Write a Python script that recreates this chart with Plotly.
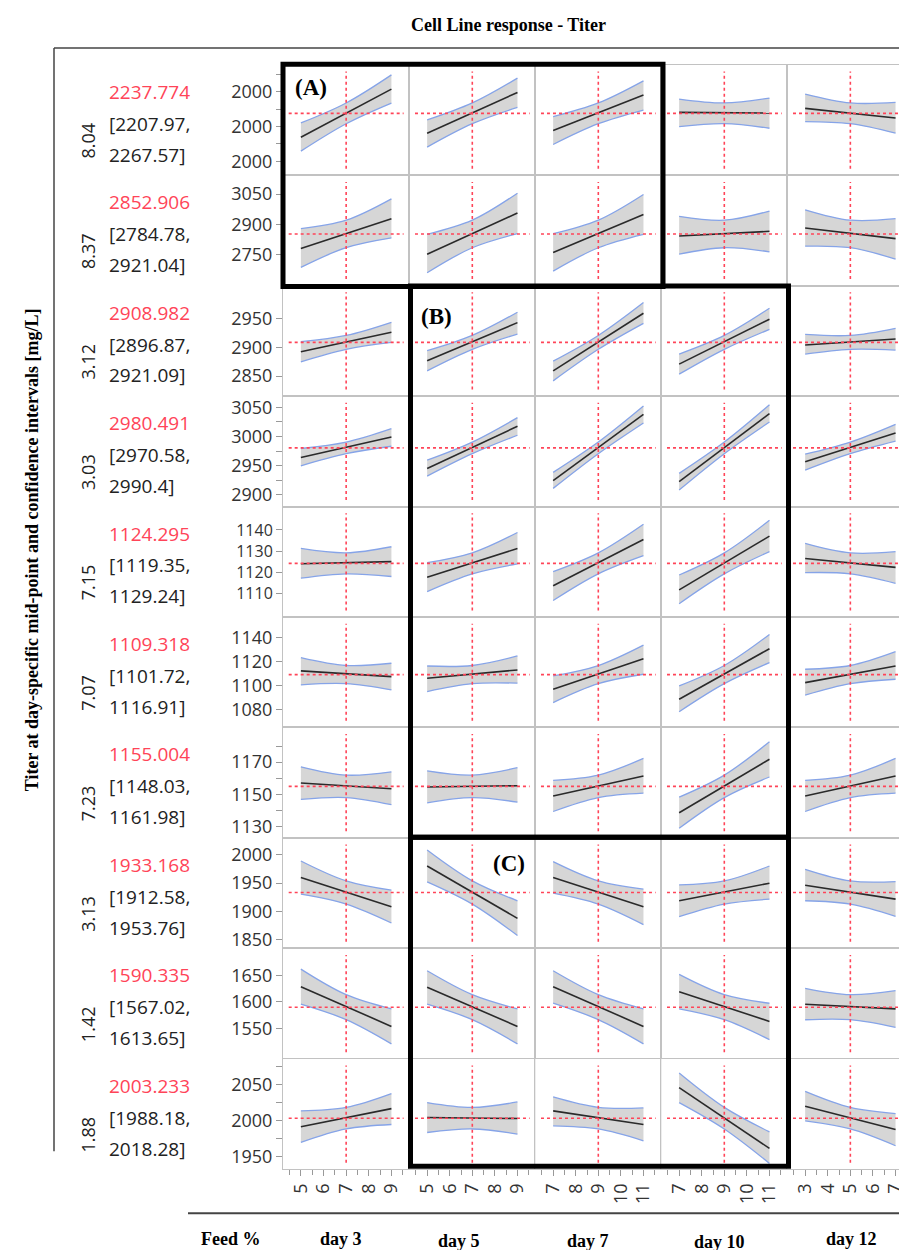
import plotly.graph_objects as go

# ---------------- data ----------------
TITLE = "Cell Line response - Titer"
Y_TITLE = "Titer at day-specific mid-point and confidence intervals [mg/L]"
X_HEADER = "Feed %"
DAYS = ["day 3", "day 5", "day 7", "day 10", "day 12"]
X_LO = [5, 5, 7, 7, 3]
X_MID = [7, 7, 9, 9, 5]
X_HI = [9, 9, 11, 11, 7]

ROW_LABELS = ["8.04", "8.37", "3.12", "3.03", "7.15", "7.07", "7.23", "3.13", "1.42", "1.88"]
MID = [2237.774, 2852.906, 2908.982, 2980.491, 1124.295, 1109.318, 1155.004, 1933.168, 1590.335, 2003.233]
CI_LO = [2207.97, 2784.78, 2896.87, 2970.58, 1119.35, 1101.72, 1148.03, 1912.58, 1567.02, 1988.18]
CI_HI = [2267.57, 2921.04, 2921.09, 2990.4, 1129.24, 1116.91, 1161.98, 1953.76, 1613.65, 2018.28]

# prediction line at low / high end of each factor range (rows x days)
LINE_LO = [
    [2169.2, 2180.7, 2188.3, 2240.6, 2252.1],
    [2780.8, 2752.9, 2761.1, 2843.1, 2882.4],
    [2892.6, 2876.8, 2859.3, 2871.0, 2904.3],
    [2964.0, 2945.3, 2924.3, 2922.6, 2956.6],
    [1124.1, 1117.7, 1113.7, 1111.8, 1126.6],
    [1112.4, 1106.2, 1097.1, 1088.7, 1102.6],
    [1157.1, 1154.6, 1149.0, 1138.6, 1149.0],
    [1959.6, 1980.2, 1959.6, 1918.5, 1946.1],
    [1628.6, 1627.4, 1628.6, 1619.3, 1595.9],
    [1991.2, 2004.1, 2013.4, 2045.8, 2019.9],
]
LINE_HI = [
    [2307.3, 2297.8, 2290.2, 2238.7, 2224.4],
    [2928.3, 2956.2, 2949.6, 2866.0, 2829.9],
    [2926.6, 2943.5, 2959.9, 2949.4, 2914.9],
    [2999.2, 3017.4, 3037.9, 3039.0, 3006.1],
    [1125.1, 1131.3, 1135.5, 1137.1, 1122.4],
    [1107.6, 1113.2, 1122.6, 1131.0, 1116.5],
    [1153.5, 1155.4, 1161.4, 1171.8, 1161.4],
    [1907.9, 1887.3, 1907.9, 1949.7, 1921.4],
    [1554.5, 1554.5, 1554.5, 1563.8, 1587.2],
    [2016.6, 2002.8, 1994.4, 1961.1, 1987.5],
]
# confidence band edges at low / high end
UP_LO = [
    [2210.2, 2218.7, 2228.3, 2278.7, 2293.0],
    [2879.1, 2851.3, 2854.5, 2939.8, 2972.5],
    [2910.2, 2894.4, 2876.2, 2888.5, 2923.0],
    [2979.4, 2959.5, 2938.5, 2936.8, 2969.7],
    [1131.3, 1124.6, 1120.4, 1118.8, 1133.7],
    [1123.5, 1116.5, 1108.2, 1099.8, 1113.8],
    [1167.1, 1164.6, 1158.7, 1148.3, 1158.7],
    [1989.1, 2008.5, 1987.9, 1946.7, 1974.4],
    [1661.3, 1658.2, 1658.2, 1651.4, 1625.5],
    [2013.4, 2025.0, 2032.8, 2066.2, 2040.7],
]
DN_LO = [
    [2129.3, 2140.7, 2148.3, 2199.7, 2214.0],
    [2687.4, 2661.1, 2669.3, 2752.9, 2792.3],
    [2875.1, 2859.3, 2841.7, 2853.4, 2888.5],
    [2949.8, 2932.2, 2911.2, 2908.4, 2942.4],
    [1117.3, 1111.0, 1106.8, 1105.3, 1119.9],
    [1100.7, 1095.1, 1085.9, 1078.2, 1092.1],
    [1146.9, 1144.8, 1139.4, 1129.0, 1139.4],
    [1930.2, 1952.0, 1932.0, 1890.3, 1918.5],
    [1595.9, 1595.9, 1597.8, 1587.2, 1566.9],
    [1969.4, 1983.3, 1992.6, 2025.0, 1999.5],
]
UP_HI = [
    [2348.2, 2338.8, 2331.1, 2281.6, 2269.2],
    [3026.6, 3054.5, 3047.9, 2966.0, 2928.3],
    [2944.1, 2961.7, 2978.6, 2968.7, 2933.6],
    [3013.4, 3032.2, 3052.1, 3054.3, 3020.8],
    [1132.1, 1138.8, 1142.7, 1144.6, 1129.8],
    [1118.8, 1124.9, 1134.0, 1142.9, 1128.5],
    [1164.0, 1166.6, 1172.3, 1182.7, 1172.3],
    [1937.3, 1918.5, 1939.1, 1980.2, 1952.6],
    [1587.2, 1587.2, 1587.2, 1597.7, 1621.1],
    [2037.5, 2025.9, 2017.6, 1984.2, 2009.7],
]
DN_HI = [
    [2267.3, 2254.9, 2247.3, 2195.0, 2180.7],
    [2833.2, 2854.5, 2851.3, 2764.4, 2728.3],
    [2909.0, 2923.6, 2942.3, 2931.8, 2895.5],
    [2983.3, 3002.1, 3023.1, 3024.8, 2991.9],
    [1118.1, 1124.0, 1127.9, 1129.8, 1114.9],
    [1096.5, 1102.1, 1109.6, 1119.3, 1105.4],
    [1143.6, 1145.2, 1150.8, 1160.8, 1150.8],
    [1879.1, 1856.8, 1876.2, 1921.4, 1890.9],
    [1521.8, 1521.8, 1521.8, 1529.8, 1552.7],
    [1994.4, 1981.0, 1971.7, 1940.2, 1964.8],
]

Y_TICKS = [
    [2100, 2200, 2300], [2750, 2900, 3050], [2850, 2900, 2950],
    [2900, 2950, 3000, 3050], [1110, 1120, 1130, 1140], [1080, 1100, 1120, 1140],
    [1130, 1150, 1170], [1850, 1900, 1950, 2000], [1550, 1600, 1650],
    [1950, 2000, 2050],
]
Y_TICKTEXT = [
    ["2000", "2000", "2000"], None, None, None, None, None, None, None, None, None,
]
Y_MINOR = [
    [2150, 2250, 2350], [], [], [2925, 2975, 3025], [], [], [1140, 1160, 1180],
    [], [], [1975, 2025, 2075],
]

# ---------------- layout (pixels) ----------------
W, H = 907, 1250
GRID_X = [275, 401.3, 527.3, 653.3, 779.3, 905.4]
GRID_TOP, ROW_H = 55, 110.8
Y_RANGES = [(2060, 2377), (2597, 3143), (2815, 3008), (2880, 3069), (1099, 1151),
            (1065, 1157.5), (1123, 1191.5), (1834, 2030), (1494, 1700), (1932, 2086)]
Y_TICKSIZE = [18, 18, 18, 18, 16, 18, 18, 18, 18, 18]
X_HALF = 2.79

RED = "#ff4458"
BLUE = "#86a4e8"
FILL = "#d6d6d6"
GRID = "#c2c2c2"
NUMFONT = "Open Sans"
SERIF = "Liberation Serif"
TICKSIZE = 18


def px(x):
    return x / W


def py(y):
    return 1 - y / H


fig = go.Figure()
layout = {}
shapes = []
annotations = []

NR, NC = len(MID), len(DAYS)
for i in range(NR):
    top = GRID_TOP + ROW_H * i
    bot = top + ROW_H
    for j in range(NC):
        k = i * NC + j + 1
        xs = "x" if k == 1 else f"x{k}"
        ys = "y" if k == 1 else f"y{k}"
        xa = "xaxis" if k == 1 else f"xaxis{k}"
        ya = "yaxis" if k == 1 else f"yaxis{k}"
        xd = [X_LO[j], X_MID[j], X_HI[j]]
        lower = [DN_LO[i][j], CI_LO[i], DN_HI[i][j]]
        upper = [UP_LO[i][j], CI_HI[i], UP_HI[i][j]]
        # band fill
        fig.add_trace(go.Scatter(x=xd, y=lower, xaxis=xs, yaxis=ys,
                                 mode="lines", line=dict(width=0, shape="spline", smoothing=1.0),
                                 hoverinfo="skip", showlegend=False))
        fig.add_trace(go.Scatter(x=xd, y=upper, xaxis=xs, yaxis=ys,
                                 mode="lines", line=dict(width=0, shape="spline", smoothing=1.0),
                                 fill="tonexty", fillcolor=FILL, hoverinfo="skip", showlegend=False))
        # band edges
        for yy in (lower, upper):
            fig.add_trace(go.Scatter(x=xd, y=yy, xaxis=xs, yaxis=ys, mode="lines",
                                     line=dict(color=BLUE, width=1.3, shape="spline", smoothing=1.0),
                                     hoverinfo="skip", showlegend=False))
        # prediction line
        fig.add_trace(go.Scatter(x=[X_LO[j], X_HI[j]], y=[LINE_LO[i][j], LINE_HI[i][j]],
                                 xaxis=xs, yaxis=ys, mode="lines",
                                 line=dict(color="#2a2a2a", width=1.6),
                                 hoverinfo="skip", showlegend=False))
        # crosshair
        shapes.append(dict(type="line", xref=f"{xs} domain", yref=ys, x0=0.045, x1=0.955,
                           y0=MID[i], y1=MID[i], line=dict(color=RED, width=1.6, dash="dot"),
                           layer="above"))
        shapes.append(dict(type="line", xref=xs, yref=f"{ys} domain", x0=X_MID[j], x1=X_MID[j],
                           y0=0.06, y1=0.94, line=dict(color=RED, width=1.6, dash="dot"),
                           layer="above"))

        xax = dict(domain=[px(GRID_X[j]), px(GRID_X[j + 1])], anchor=ys,
                   range=[X_MID[j] - X_HALF, X_MID[j] + X_HALF],
                   showgrid=False, zeroline=False, showline=True, mirror=True,
                   linecolor=GRID, linewidth=1, fixedrange=True)
        if i == NR - 1:
            xax.update(tickmode="array", tickvals=list(range(X_LO[j], X_HI[j] + 1)),
                       ticks="outside", ticklen=6, tickcolor="#999", tickangle=-90,
                       tickfont=dict(family=NUMFONT, size=TICKSIZE, color="#333"),
                       minor=dict(tickmode="array",
                                  tickvals=[t + 0.5 for t in range(X_LO[j] - 1, X_HI[j] + 1)],
                                  ticks="outside", ticklen=5, tickcolor="#999"))
        else:
            xax.update(showticklabels=False, ticks="")
        layout[xa] = xax

        yax = dict(domain=[py(bot), py(top)], anchor=xs, range=list(Y_RANGES[i]),
                   showgrid=False, zeroline=False, showline=True, mirror=True,
                   linecolor=GRID, linewidth=1, fixedrange=True)
        if j == 0:
            yax.update(tickmode="array", tickvals=Y_TICKS[i],
                       ticks="outside", ticklen=6, tickcolor="#999",
                       tickfont=dict(family=NUMFONT, size=Y_TICKSIZE[i], color="#333"))
            if Y_TICKTEXT[i]:
                yax["ticktext"] = Y_TICKTEXT[i]
            if Y_MINOR[i]:
                yax["minor"] = dict(tickmode="array", tickvals=Y_MINOR[i], ticks="outside",
                                    ticklen=6, tickcolor="#999")
        else:
            yax.update(showticklabels=False, ticks="")
        layout[ya] = yax

    # left text block
    annotations.append(dict(x=px(99), y=py(top + 27), xref="paper", yref="paper", xanchor="left",
                            yanchor="middle", text=f"{MID[i]:.3f}", showarrow=False,
                            font=dict(family=NUMFONT, size=19, color=RED)))
    annotations.append(dict(x=px(99), y=py(top + 59), xref="paper", yref="paper", xanchor="left",
                            yanchor="middle", text=f"[{CI_LO[i]:g},", showarrow=False,
                            font=dict(family=NUMFONT, size=19, color="#222")))
    annotations.append(dict(x=px(99), y=py(top + 90), xref="paper", yref="paper", xanchor="left",
                            yanchor="middle", text=f"{CI_HI[i]:g}]", showarrow=False,
                            font=dict(family=NUMFONT, size=19, color="#222")))
    annotations.append(dict(x=px(80), y=py(top + 76), xref="paper", yref="paper", xanchor="center",
                            yanchor="middle", text=ROW_LABELS[i], textangle=-90, showarrow=False,
                            font=dict(family=NUMFONT, size=18, color="#222")))

# highlight boxes
for (x0, y0, x1, y1) in [(275, 54.5, 655, 277.5), (402.5, 277, 780.5, 830), (402.5, 830, 780.5, 1160)]:
    shapes.append(dict(type="rect", xref="paper", yref="paper", x0=px(x0), x1=px(x1),
                       y0=py(y1), y1=py(y0), line=dict(color="black", width=5), layer="above"))
for txt, (xx, yy) in zip(["(A)", "(B)", "(C)"], [(303, 78), (428, 307), (501, 856)]):
    annotations.append(dict(x=px(xx), y=py(yy), xref="paper", yref="paper", text=f"<b>{txt}</b>",
                            showarrow=False, xanchor="center", yanchor="middle",
                            font=dict(family=SERIF, size=23, color="black")))

# frame lines
shapes.append(dict(type="line", xref="paper", yref="paper", x0=px(46), x1=px(907), y0=py(38), y1=py(38),
                   line=dict(color="#444", width=1.5)))
shapes.append(dict(type="line", xref="paper", yref="paper", x0=px(46), x1=px(46), y0=py(38), y1=py(1145),
                   line=dict(color="#444", width=1.5)))
shapes.append(dict(type="line", xref="paper", yref="paper", x0=px(180), x1=px(907), y0=py(1207), y1=py(1207),
                   line=dict(color="#444", width=2)))

# titles
annotations.append(dict(x=px(500), y=py(15), xref="paper", yref="paper", text=f"<b>{TITLE}</b>",
                        showarrow=False, xanchor="center", yanchor="middle",
                        font=dict(family=SERIF, size=18, color="black")))
annotations.append(dict(x=px(24), y=py(542), xref="paper", yref="paper", text=f"<b>{Y_TITLE}</b>",
                        showarrow=False, xanchor="center", yanchor="middle", textangle=-90,
                        font=dict(family=SERIF, size=18, color="black")))
annotations.append(dict(x=px(222), y=py(1233), xref="paper", yref="paper", text=f"<b>{X_HEADER}</b>",
                        showarrow=False, xanchor="center", yanchor="middle",
                        font=dict(family=SERIF, size=18, color="black")))
for d, (xx, yy) in zip(DAYS, [(333, 1233), (451, 1235), (580, 1235), (711, 1236), (843, 1233)]):
    annotations.append(dict(x=px(xx), y=py(yy), xref="paper", yref="paper", text=f"<b>{d}</b>",
                            showarrow=False, xanchor="center", yanchor="middle",
                            font=dict(family=SERIF, size=18, color="black")))

fig.update_layout(width=W, height=H, margin=dict(l=0, r=0, t=0, b=0),
                  plot_bgcolor="white", paper_bgcolor="white", showlegend=False,
                  shapes=shapes, annotations=annotations, **layout)

fig.write_html("out.html")
